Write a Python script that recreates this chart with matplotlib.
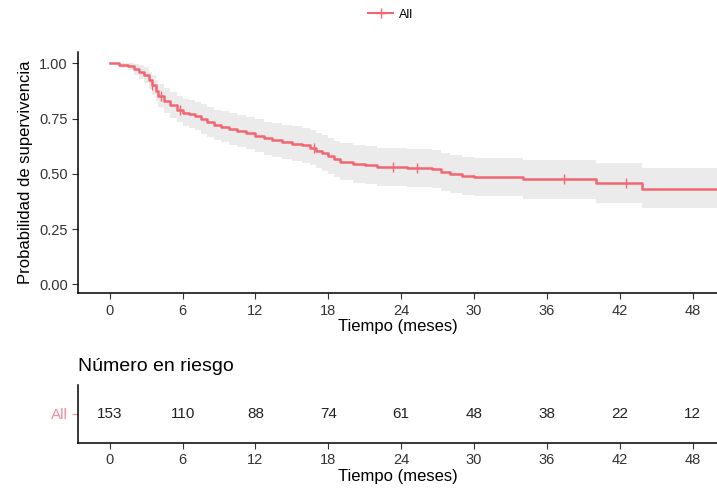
import numpy as np
import matplotlib
matplotlib.use("Agg")
import matplotlib.pyplot as plt
from matplotlib.lines import Line2D

plt.rcParams['font.family'] = ['Liberation Sans', 'DejaVu Sans']

# Kaplan-Meier estimate (months, survival)
times = [0, 0.8, 1.5, 2.0, 2.4, 2.8, 3.2, 3.5, 3.8, 4.0, 4.5, 5.0, 5.5, 6.0, 6.5, 7.0,
         7.5, 8.0, 8.6, 9.2, 9.8, 10.5, 11.2, 12.0, 12.7, 13.4, 14.2, 15.0, 15.8, 16.5,
         17.0, 17.5, 18.0, 18.5, 19.0, 20.0, 21.0, 22.0, 24.5, 26.5, 27.3, 28.0, 29.0,
         30.0, 34.0, 40.0, 43.8]
surv = [1.0, 0.993, 0.987, 0.974, 0.961, 0.948, 0.922, 0.902, 0.876, 0.850, 0.830, 0.810,
        0.790, 0.777, 0.770, 0.760, 0.748, 0.735, 0.722, 0.712, 0.702, 0.694, 0.684,
        0.672, 0.660, 0.652, 0.644, 0.636, 0.628, 0.618, 0.605, 0.594, 0.580, 0.567,
        0.555, 0.545, 0.538, 0.530, 0.526, 0.520, 0.510, 0.500, 0.490, 0.485, 0.475,
        0.458, 0.432]
lower = [1.0, 0.980, 0.968, 0.948, 0.930, 0.912, 0.882, 0.858, 0.828, 0.800, 0.776, 0.754,
         0.732, 0.716, 0.708, 0.696, 0.682, 0.668, 0.654, 0.642, 0.630, 0.622, 0.610,
         0.598, 0.584, 0.576, 0.566, 0.558, 0.548, 0.538, 0.524, 0.512, 0.498, 0.484,
         0.472, 0.460, 0.452, 0.444, 0.440, 0.434, 0.424, 0.414, 0.404, 0.398, 0.388,
         0.368, 0.344]
upper = [1.0, 1.0, 1.0, 0.998, 0.990, 0.982, 0.962, 0.946, 0.924, 0.904, 0.886, 0.868,
         0.850, 0.838, 0.832, 0.824, 0.814, 0.802, 0.790, 0.782, 0.774, 0.766, 0.758,
         0.746, 0.736, 0.728, 0.722, 0.714, 0.708, 0.698, 0.686, 0.676, 0.662, 0.650,
         0.638, 0.630, 0.624, 0.616, 0.612, 0.606, 0.596, 0.586, 0.576, 0.572, 0.564,
         0.548, 0.524]
censor_t = [3.5, 4.2, 5.8, 16.8, 23.3, 25.3, 37.4, 42.5]

risk_times = [0, 6, 12, 18, 24, 30, 36, 42, 48]
risk_n = [153, 110, 88, 74, 61, 48, 38, 22, 12]

red = '#F26672'
xlim = (-2.6, 50)

fig = plt.figure(figsize=(7.17, 4.92), dpi=100)
ax = fig.add_axes([0.109, 0.404, 0.891, 0.49])

t_ext = times + [xlim[1]]
ax.fill_between(t_ext, lower + [lower[-1]], upper + [upper[-1]], step='post',
                color='#b0b0b0', alpha=0.25, lw=0)
ax.step(t_ext, surv + [surv[-1]], where='post', color=red, lw=1.8)
idx = np.searchsorted(times, censor_t, side='right') - 1
ax.plot(censor_t, np.array(surv)[idx], ls='none', marker='|', ms=7, mew=1.0, color=red)

ax.set_xlim(*xlim)
ax.set_ylim(-0.04, 1.05)
ax.set_xticks(risk_times)
ax.set_yticks([0, 0.25, 0.5, 0.75, 1.0])
ax.set_yticklabels(['0.00', '0.25', '0.50', '0.75', '1.00'])
ax.set_xlabel('Tiempo (meses)', fontsize=12, labelpad=1)
ax.set_ylabel('Probabilidad de supervivencia', fontsize=12)
for s in ['top', 'right']:
    ax.spines[s].set_visible(False)
for s in ['left', 'bottom']:
    ax.spines[s].set_linewidth(1.1)
ax.tick_params(labelsize=10.5, color='#333333', length=4, labelcolor='#333333')

handle = Line2D([], [], color=red, lw=1.5, marker='+', ms=7, mew=1.0)
fig.legend([handle], ['All'], loc='center', bbox_to_anchor=(0.545, 0.97), frameon=False,
           fontsize=9, handlelength=2.0, handletextpad=0.5)

# risk table
rax = fig.add_axes([0.109, 0.1, 0.891, 0.118])
for t, n in zip(risk_times, risk_n):
    rax.text(t, 0.5, str(n), ha='center', va='center', fontsize=11, color='#222222')
rax.set_xlim(*xlim)
rax.set_ylim(0, 1)
rax.set_xticks(risk_times)
rax.set_yticks([0.5])
rax.set_yticklabels(['All'], fontsize=11)
rax.tick_params(axis='y', colors='#F48FA0', length=4, labelcolor='#F48FA0')
rax.tick_params(axis='x', labelsize=10.5, color='#333333', length=4, labelcolor='#333333')
for s in ['top', 'right']:
    rax.spines[s].set_visible(False)
for s in ['left', 'bottom']:
    rax.spines[s].set_linewidth(1.1)
rax.set_xlabel('Tiempo (meses)', fontsize=12, labelpad=1)
rax.set_title('Número en riesgo', loc='left', fontsize=14, pad=10, x=0.0)

fig.savefig('out.png', dpi=100)
